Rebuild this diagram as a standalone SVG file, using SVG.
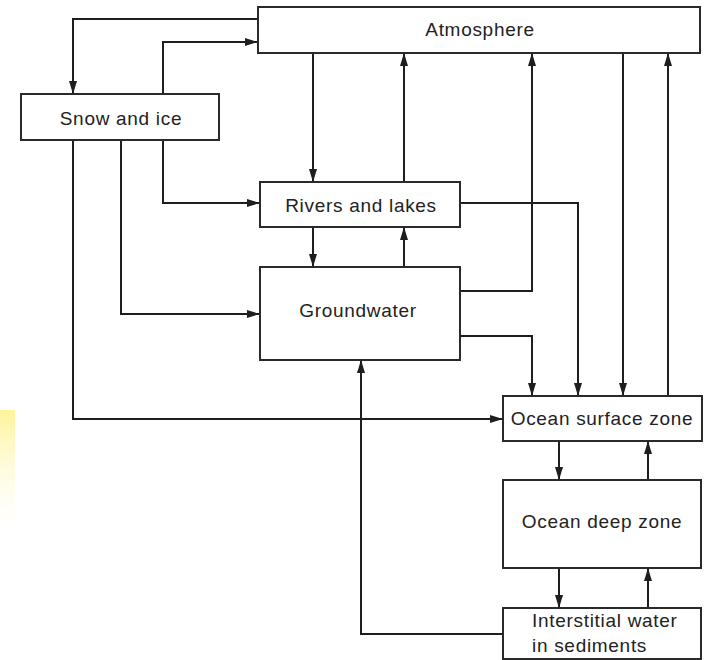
<svg xmlns="http://www.w3.org/2000/svg" width="704" height="660" viewBox="0 0 704 660">
<style>
.box{fill:#fff;stroke:#2a2a2a;stroke-width:2}
.lbl{font-family:"Liberation Sans",Arial,sans-serif;font-size:19px;fill:#222;letter-spacing:0.7px}
.c{text-anchor:middle}
.ln{fill:none;stroke:#1e1e1e;stroke-width:2;marker-end:url(#ah)}
</style>
<defs>
<marker id="ah" markerUnits="userSpaceOnUse" markerWidth="14" markerHeight="9" refX="13" refY="4" orient="auto">
<path d="M0,0 L13,4 L0,8 z" fill="#1e1e1e"/>
</marker>
<linearGradient id="yl" x1="0" y1="0" x2="0" y2="1">
<stop offset="0" stop-color="#fff49a"/>
<stop offset="1" stop-color="#fffbe0" stop-opacity="0"/>
</linearGradient>
</defs>
<rect width="704" height="660" fill="#fff"/>
<rect x="0" y="410" width="15" height="120" fill="url(#yl)"/>
<g id="connectors">
<path class="ln" d="M258,19 H73 V94"/>
<path class="ln" d="M163,94 V42 H258"/>
<path class="ln" d="M163,140 V203 H260"/>
<path class="ln" d="M121,140 V314 H260"/>
<path class="ln" d="M73,140 V419 H503"/>
<path class="ln" d="M313,53 V182"/>
<path class="ln" d="M404,182 V53"/>
<path class="ln" d="M313,227 V267"/>
<path class="ln" d="M404,267 V227"/>
<path class="ln" d="M460,291 H532 V53"/>
<path class="ln" d="M460,203 H578 V396"/>
<path class="ln" d="M460,336 H532 V396"/>
<path class="ln" d="M623,53 V396"/>
<path class="ln" d="M668,396 V53"/>
<path class="ln" d="M559,441 V480"/>
<path class="ln" d="M648,480 V441"/>
<path class="ln" d="M559,568 V608"/>
<path class="ln" d="M648,608 V568"/>
<path class="ln" d="M503,634 H361 V360"/>
</g>
<g id="atmosphere">
<rect class="box" x="258" y="7" width="442" height="46"/>
<text class="lbl c" x="480" y="36">Atmosphere</text>
</g>
<g id="snow">
<rect class="box" x="21" y="94" width="198" height="46"/>
<text class="lbl c" x="121" y="125">Snow and ice</text>
</g>
<g id="rivers">
<rect class="box" x="260" y="182" width="200" height="45"/>
<text class="lbl c" x="361" y="212">Rivers and lakes</text>
</g>
<g id="groundwater">
<rect class="box" x="260" y="267" width="200" height="93"/>
<text class="lbl c" x="358" y="317">Groundwater</text>
</g>
<g id="ocean-surface">
<rect class="box" x="503" y="396" width="199" height="45"/>
<text class="lbl c" x="602" y="425">Ocean surface zone</text>
</g>
<g id="ocean-deep">
<rect class="box" x="503" y="480" width="198" height="88"/>
<text class="lbl c" x="602" y="528">Ocean deep zone</text>
</g>
<g id="interstitial">
<rect class="box" x="503" y="608" width="198" height="51"/>
<text class="lbl" x="532" y="627">Interstitial water</text>
<text class="lbl" x="532" y="652">in sediments</text>
</g>
</svg>
